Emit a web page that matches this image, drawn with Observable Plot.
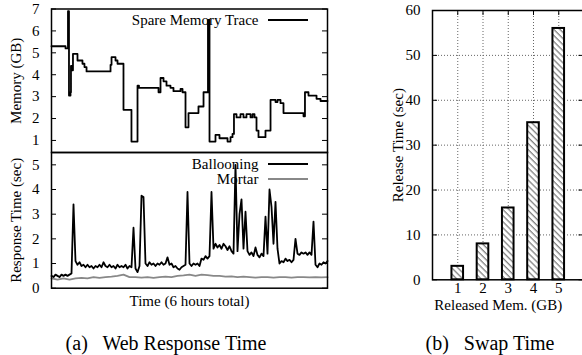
<!DOCTYPE html>
<html><head><meta charset="utf-8">
<script src="https://cdn.jsdelivr.net/npm/d3@7"></script>
<script src="https://cdn.jsdelivr.net/npm/@observablehq/plot@0.6"></script>
<style>
html,body{margin:0;padding:0;background:#fff;}
#wrap{position:relative;width:582px;height:355px;overflow:hidden;font-family:"Liberation Serif",serif;}
#wrap svg{position:absolute;left:0;top:0;}
.cap{position:absolute;font-size:20px;white-space:pre;transform:translate(-50%,-50%);color:#000;}
</style></head><body><div id="wrap"></div>
<script>
// ---- data ----
// Spare memory trace: time (minutes of 6 h), memory (GB)
const memTime = [0,18.3,21.5,22.8,24.8,25.4,26.7,28,33.9,40.4,43,45.7,77,78.3,83.5,86.1,93.9,104.3,112.2,114.1,139.6,142.2,146.1,150,155.2,159.1,168.3,170.9,174.8,178.7,191.7,198.3,204.1,206.1,213.9,219.1,229.6,233.5,236.1,238,241.3,246.5,250.4,254.3,259.6,262.2,264.8,267.4,270,279.1,285.7,292.2,294.8,298.7,302.6,328.7,330.6,335.2,345.7,350.9,360];
const memGB = [5.3,5.2,6.9,3.05,3.2,4.4,4.2,4.95,4.65,4.5,4.35,4.15,4.45,4.8,4.65,4.5,2.4,0.95,3.5,3.4,3.2,3.85,3.7,3.5,3.4,3.25,3.35,3.2,1.6,2.25,2.55,3.2,6.5,0.95,1.25,1.1,0.95,1.15,1.3,2.2,2.05,2.2,2.05,2.2,2.05,2.2,2.05,1.45,1.15,1.45,2.85,2.75,2.85,2.7,2.25,2.1,3.2,3.05,2.9,2.8,2.8];
// Response time samples, evenly spread over the 6 hours
const balloonSec = [0.5,0.45,0.55,0.5,0.45,0.55,0.5,0.55,0.5,0.55,
 0.6,3.4,1.1,0.95,1.05,0.9,0.95,0.85,0.95,0.85,
 0.9,0.8,0.9,0.85,0.95,0.85,1.05,0.9,0.85,0.95,
 0.85,0.9,0.8,0.95,0.85,0.9,0.85,0.95,0.8,0.9,
 0.85,2.45,0.8,0.65,0.9,3.75,3.7,1.0,0.9,1.05,
 0.95,1.0,0.9,1.0,0.95,1.05,0.95,1.0,1.25,0.95,
 1.0,0.85,0.9,0.8,0.75,0.85,0.9,0.95,3.9,1.0,
 0.9,1.0,0.95,1.0,0.9,1.2,1.15,1.3,1.2,1.3,
 3.9,1.6,1.8,1.65,1.75,1.6,1.8,1.7,1.55,1.7,
 1.5,1.4,5.0,1.5,3.0,3.6,1.6,3.1,1.5,1.35,
 1.45,1.3,1.65,1.35,1.25,1.4,1.3,2.9,1.4,4.0,
 3.3,1.8,3.5,1.6,1.0,1.1,1.05,1.2,1.1,1.15,
 1.05,1.15,2.0,1.4,1.35,1.45,1.4,1.45,1.35,1.45,
 1.35,2.7,0.95,0.85,1.0,0.95,1.05,1.0,1.1];
const mortarSec = [0.4,0.35,0.4,0.35,0.4,0.42,0.4,0.45,0.42,0.45,
 0.47,0.5,0.55,0.45,0.45,0.43,0.45,0.42,0.45,0.47,
 0.45,0.5,0.52,0.55,0.5,0.55,0.53,0.5,0.5,0.47,
 0.48,0.45,0.47,0.45,0.43,0.45,0.45,0.43,0.45,0.45,
 0.43,0.45,0.45,0.44,0.45,0.44,0.45];
const memTicks = [1,2,3,4,5,6,7];
const respTicks = [0,1,2,3,4,5];
// Swap time
const relGB = [1,2,3,4,5];
const relSec = [3,8,16,35,56];
const relTicks = [0,10,20,30,40,50,60];
const relGrid = [10,20,30,40,50];

// ---- layout ----
const W = 582, H = 355;
const L = 51, R = 327;
const style = {fontFamily:'"Liberation Serif", serif', fontSize:"15px", background:"transparent", maxWidth:"none", overflow:"visible", color:"#000"};
const wrap = document.getElementById("wrap");

const memData = memTime.map((t,i)=>({t, v: memGB[i]}));
const balData = balloonSec.map((v,i)=>({t: i*360/(balloonSec.length-1), v}));
const morData = mortarSec.map((v,i)=>({t: i*360/(mortarSec.length-1), v}));

const vlabel = (s, dx) => Plot.text([s], {text:d=>d, frameAnchor:"left", textAnchor:"middle", lineAnchor:"middle", dx, rotate:-90});

const memPlot = Plot.plot({
  width: W, height: H, marginLeft: L, marginRight: W - R, marginTop: 8.5, marginBottom: H - 152,
  style,
  x: {domain:[0,360], axis:null},
  y: {domain:[0.45,7], axis:null},
  marks: [
    Plot.line(memData, {x:"t", y:"v", curve:"step-after", stroke:"black", strokeWidth:1.8}),
    Plot.axisY(memTicks, {anchor:"left", tickSize:0, tickPadding:12, label:null}),
    Plot.tickY(memTicks, {y:d=>d, insetRight:(R-L)-5, stroke:"black"}),
    Plot.tickY(memTicks, {y:d=>d, insetLeft:(R-L)-5, stroke:"black"}),
    Plot.frame({stroke:"black", strokeWidth:1.5}),
    vlabel("Memory (GB)", -35),
    Plot.text(["Spare Memory Trace"], {text:d=>d, frameAnchor:"top-right", dx:-69, dy:11.5, textAnchor:"end", lineAnchor:"middle"})
  ]
});

const respPlot = Plot.plot({
  width: W, height: H, marginLeft: L, marginRight: W - R, marginTop: 152, marginBottom: H - 287.7,
  style,
  x: {domain:[0,360], axis:null},
  y: {domain:[0,5.5], axis:null},
  marks: [
    Plot.line(balData, {x:"t", y:"v", stroke:"black", strokeWidth:1.8}),
    Plot.line(morData, {x:"t", y:"v", stroke:"#888", strokeWidth:1.8}),
    Plot.axisY(respTicks, {anchor:"left", tickSize:0, tickPadding:12, label:null}),
    Plot.tickY(respTicks, {y:d=>d, insetRight:(R-L)-5, stroke:"black"}),
    Plot.tickY(respTicks, {y:d=>d, insetLeft:(R-L)-5, stroke:"black"}),
    Plot.frame({stroke:"black", strokeWidth:1.5}),
    vlabel("Response Time (sec)", -35),
    Plot.text(["Time (6 hours total)"], {text:d=>d, frameAnchor:"bottom", lineAnchor:"middle", dy:12.5}),
    Plot.text(["Ballooning"], {text:d=>d, frameAnchor:"top-right", dx:-69, dy:12, textAnchor:"end", lineAnchor:"middle"}),
    Plot.text(["Mortar"], {text:d=>d, frameAnchor:"top-right", dx:-69, dy:27, textAnchor:"end", lineAnchor:"middle"})
  ]
});

const BW = 590, BL = 432, BR = 583.5;
const barData = relGB.map((g,i)=>({gb:g, sec:relSec[i]}));
const half = 0.23;
const barPlot = Plot.plot({
  width: BW, height: H, marginLeft: BL, marginRight: BW - BR, marginTop: 10, marginBottom: H - 279.3,
  style,
  x: {domain:[0,6], axis:null},
  y: {domain:[0,60], axis:null},
  marks: [
    Plot.gridY(relGrid, {stroke:"#666", strokeOpacity:1, strokeDasharray:"1,2"}),
    Plot.gridX(relGB, {stroke:"#666", strokeOpacity:1, strokeDasharray:"1,2"}),
    Plot.rectY(barData, {x1:d=>d.gb-half, x2:d=>d.gb+half, y:"sec", fill:"url(#hatch)", stroke:"black", strokeWidth:2}),
    Plot.axisY(relTicks, {anchor:"left", tickSize:0, tickPadding:12, label:null}),
    Plot.axisX(relGB, {anchor:"bottom", tickSize:0, tickPadding:2.5, label:null}),
    Plot.tickY(relTicks, {y:d=>d, insetRight:(BR-BL)-5, stroke:"black"}),
    Plot.tickY(relTicks, {y:d=>d, insetLeft:(BR-BL)-5, stroke:"black"}),
    Plot.tickX(relGB, {x:d=>d, insetBottom:(279.3-10)-5, stroke:"black"}),
    Plot.frame({stroke:"black", strokeWidth:1.5}),
    vlabel("Release Time (sec)", -34),
    Plot.text(["Released Mem. (GB)"], {text:d=>d, frameAnchor:"bottom", lineAnchor:"middle", dx:-10, dy:25})
  ]
});

// hatch pattern for bars
const defs = d3.select(barPlot).insert("defs", ":first-child");
const pat = defs.append("pattern").attr("id","hatch").attr("patternUnits","userSpaceOnUse")
  .attr("width",4.3).attr("height",4.3).attr("patternTransform","rotate(-45)");
pat.append("rect").attr("width",4.3).attr("height",4.3).attr("fill","white");
pat.append("line").attr("x1",1).attr("y1",0).attr("x2",1).attr("y2",4.3).attr("stroke","#333").attr("stroke-width",0.8);

// legend samples
d3.select(memPlot).append("line").attr("x1",268).attr("x2",308).attr("y1",20).attr("y2",20).attr("stroke","black").attr("stroke-width",1.8);
d3.select(respPlot).append("line").attr("x1",268).attr("x2",308).attr("y1",164).attr("y2",164).attr("stroke","black").attr("stroke-width",1.8);
d3.select(respPlot).append("line").attr("x1",268).attr("x2",308).attr("y1",179).attr("y2",179).attr("stroke","#888").attr("stroke-width",1.8);

wrap.append(memPlot, respPlot, barPlot);

const caps = [["(a)\u2002 Web Response Time", 166, 343], ["(b)\u2002 Swap Time", 490, 343]];
for (const [t,x,y] of caps) {
  const d = document.createElement("div");
  d.className = "cap"; d.textContent = t;
  d.style.left = x + "px"; d.style.top = y + "px";
  wrap.append(d);
}
</script></body></html>
